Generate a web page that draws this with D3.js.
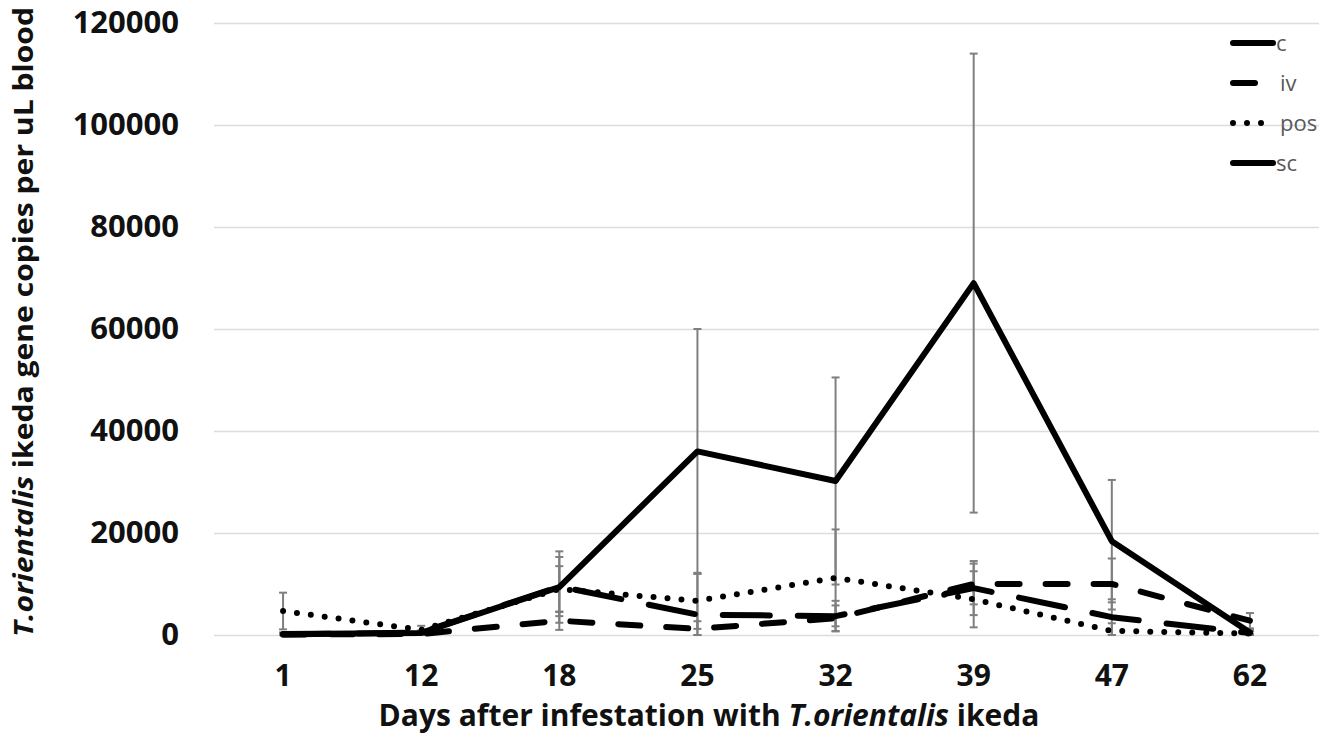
<!DOCTYPE html>
<html>
<head>
<meta charset="utf-8">
<script src="https://cdn.jsdelivr.net/npm/d3@7"></script>
<style>
  body { margin: 0; background: #fff; }
  svg { display: block; }
  text { font-family: "Open Sans", sans-serif; }
</style>
</head>
<body>
<div id="graph"></div>
<script>
// days on the x axis
const days = ["1", "12", "18", "25", "32", "39", "47", "62"];

// means and error bars
const cVals  = [200, 400, 9400, 36000, 30200, 69000, 18400, 500];
const cErr   = [300, 400, 7000, 24000, 20300, 45000, 12000, 300];
const ivVals = [100, 200, 2800, 1200, 3300, 10000, 10000, 2800];
const ivErr  = [200, 300, 1800, 1500, 2500, 4000, 5000, 1500];
const posVals = [4700, 1000, 9000, 6700, 11200, 7000, 800, 300];
const posErr  = [3600, 800, 4500, 5500, 9500, 5500, 1500, 400];
const scVals = [100, 500, 9500, 4000, 3700, 9200, 3500, 400];
const scErr  = [200, 400, 5800, 8000, 3000, 5300, 3500, 700];

const yTicks = [0, 20000, 40000, 60000, 80000, 100000, 120000];

const series = [
  { name: "c",   vals: cVals,   err: cErr,   dash: null },
  { name: "iv",  vals: ivVals,  err: ivErr,  dash: "22 26" },
  { name: "pos", vals: posVals, err: posErr, dash: "0 14" },
  { name: "sc",  vals: scVals,  err: scErr,  dash: "47 28" }
];

const W = 1330, H = 738;
const plotL = 214, plotR = 1319, plotT = 23, plotB = 635;

const svg = d3.select("#graph").append("svg")
  .attr("width", W)
  .attr("height", H);

svg.append("rect").attr("width", W).attr("height", H).attr("fill", "#fff");

const x = d3.scaleBand().domain(days).range([plotL, plotR]).padding(0);
const cx = d => x(d) + x.bandwidth() / 2;
const y = d3.scaleLinear().domain([0, 120000]).range([plotB, plotT]);

// gridlines
svg.append("g")
  .attr("transform", `translate(${plotL},0)`)
  .call(d3.axisLeft(y).tickValues(yTicks).tickSize(-(plotR - plotL)).tickFormat(""))
  .call(g => g.select(".domain").remove())
  .call(g => g.selectAll("line").attr("stroke", "#dcdcdc").attr("stroke-width", 1.3));

// y tick labels
svg.append("g")
  .attr("transform", `translate(${plotL},0)`)
  .call(d3.axisLeft(y).tickValues(yTicks).tickSize(0).tickPadding(35).tickFormat(d3.format("d")))
  .call(g => g.select(".domain").remove())
  .call(g => g.selectAll("text")
    .attr("font-family", "Open Sans, sans-serif")
    .attr("font-size", 31).attr("font-weight", "bold").attr("fill", "#111"));

// x tick labels
svg.append("g")
  .attr("transform", `translate(0,${plotB})`)
  .call(d3.axisBottom(x).tickSize(0).tickPadding(30))
  .call(g => g.select(".domain").remove())
  .call(g => g.selectAll("text")
    .attr("font-family", "Open Sans, sans-serif")
    .attr("font-size", 30).attr("font-weight", "bold").attr("fill", "#111"));

// error bars
const errG = svg.append("g");
series.forEach(s => {
  s.vals.forEach((v, i) => {
    const px = cx(days[i]);
    const y0 = y(Math.max(0, v - s.err[i]));
    const y1 = y(v + s.err[i]);
    errG.append("line").attr("x1", px).attr("x2", px).attr("y1", y0).attr("y2", y1)
      .attr("stroke", "#7f7f7f").attr("stroke-width", 2);
    [y0, y1].forEach(yy => errG.append("line")
      .attr("x1", px - 4).attr("x2", px + 4).attr("y1", yy).attr("y2", yy)
      .attr("stroke", "#7f7f7f").attr("stroke-width", 2));
  });
});

// series lines
const line = d3.line()
  .x((d, i) => cx(days[i]))
  .y(d => y(d));

series.forEach(s => {
  svg.append("path")
    .datum(s.vals)
    .attr("d", line)
    .attr("fill", "none")
    .attr("stroke", "#000")
    .attr("stroke-width", 6)
    .attr("stroke-linejoin", "round")
    .attr("stroke-linecap", "round")
    .attr("stroke-dasharray", s.dash);
});

// legend
const lg = svg.append("g");
series.forEach((s, i) => {
  const ly = 43 + i * 40;
  lg.append("line")
    .attr("x1", 1233).attr("x2", 1273).attr("y1", ly).attr("y2", ly)
    .attr("stroke", "#000").attr("stroke-width", 6)
    .attr("stroke-linecap", "round")
    .attr("stroke-dasharray", s.name === "iv" ? "22 60" : s.name === "pos" ? "0 14" : null);
  lg.append("text")
    .attr("x", s.name === "c" || s.name === "sc" ? 1276 : 1280)
    .attr("y", ly)
    .attr("dy", "0.35em")
    .attr("font-size", 22)
    .attr("fill", "#595959")
    .text(s.name);
});

// x axis title
const xt = svg.append("text")
  .attr("x", 709)
  .attr("y", 726)
  .attr("text-anchor", "middle")
  .attr("font-size", 30)
  .attr("font-weight", "bold")
  .attr("fill", "#111");
xt.append("tspan").text("Days after infestation with ");
xt.append("tspan").attr("font-style", "italic").text("T.orientalis");
xt.append("tspan").text(" ikeda");

// y axis title
const yt = svg.append("text")
  .attr("transform", "translate(33,322) rotate(-90)")
  .attr("text-anchor", "middle")
  .attr("font-size", 26)
  .attr("font-weight", "bold")
  .attr("fill", "#111")
  .attr("textLength", 630)
  .attr("lengthAdjust", "spacingAndGlyphs");
yt.append("tspan").attr("font-style", "italic").text("T.orientalis");
yt.append("tspan").text(" ikeda gene copies per uL blood");
</script>
</body>
</html>
